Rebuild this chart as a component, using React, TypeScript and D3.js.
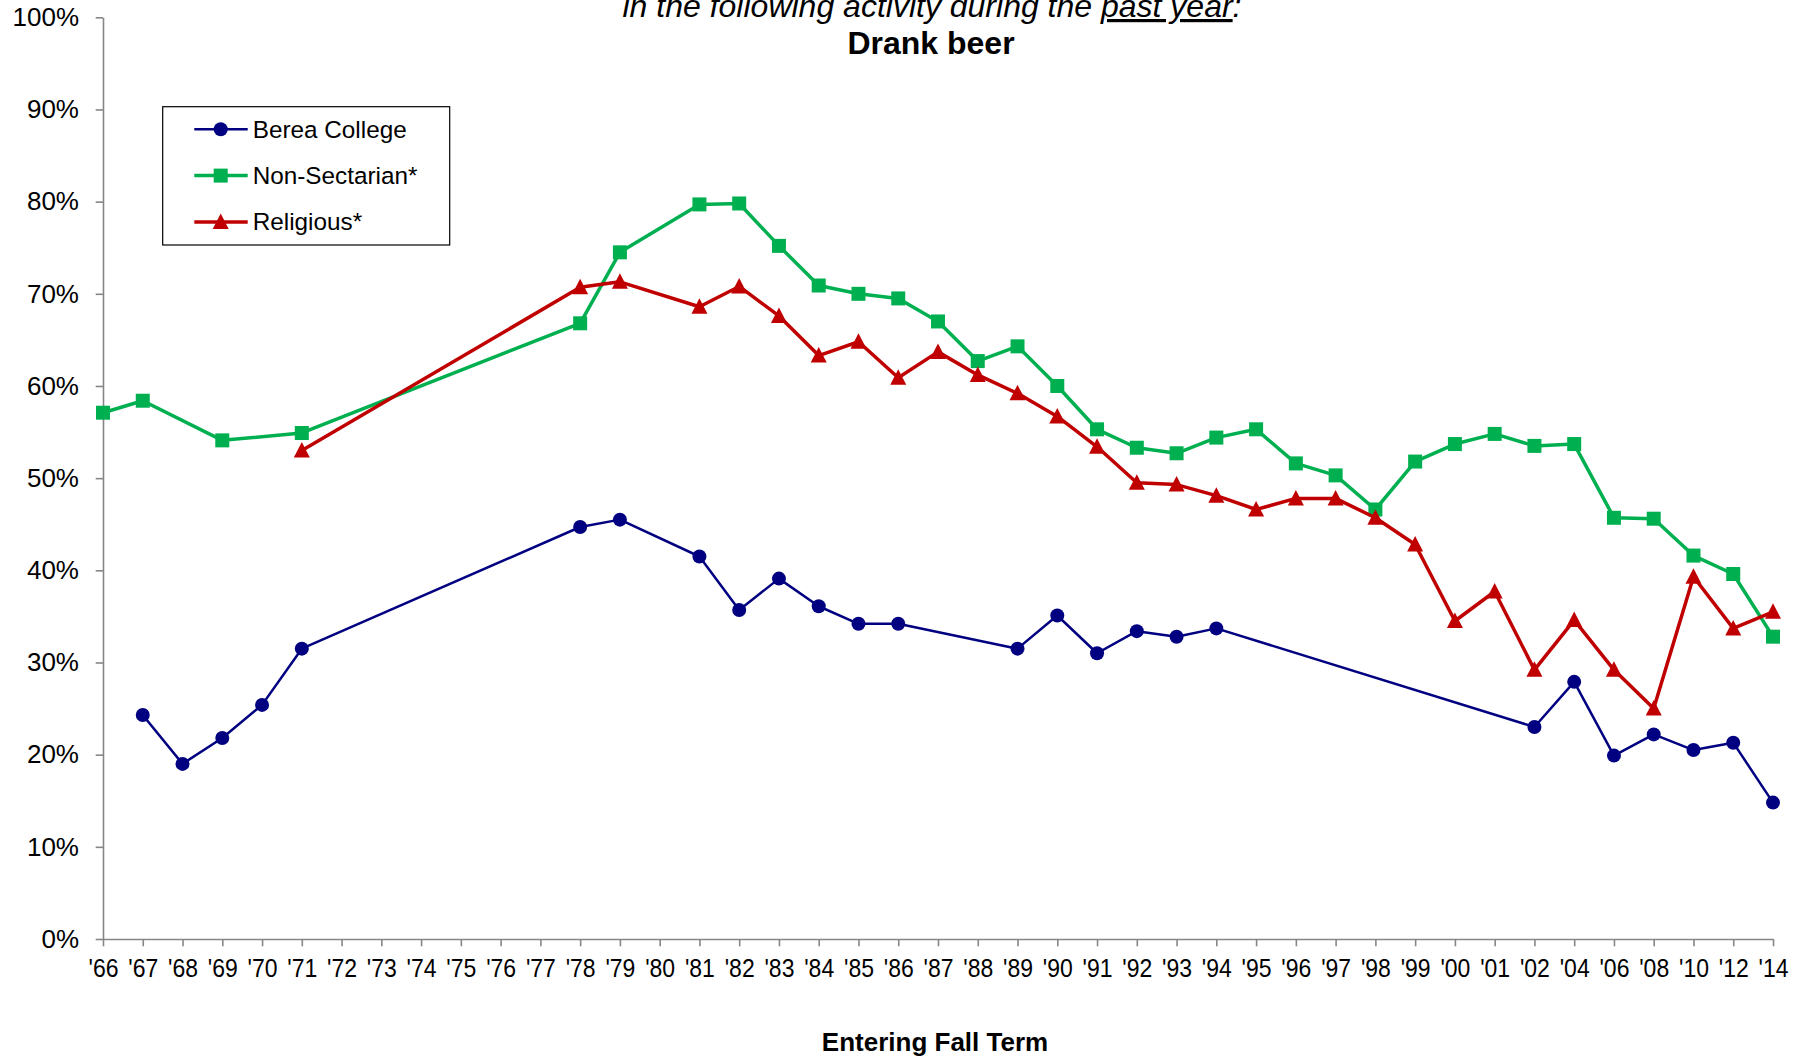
import React, { useRef, useEffect } from 'react'
import * as d3 from 'd3'

const years = [
  "'66", "'67", "'68", "'69", "'70", "'71", "'72", "'73", "'74", "'75", "'76", "'77",
  "'78", "'79", "'80", "'81", "'82", "'83", "'84", "'85", "'86", "'87", "'88", "'89",
  "'90", "'91", "'92", "'93", "'94", "'95", "'96", "'97", "'98", "'99", "'00", "'01",
  "'02", "'04", "'06", "'08", "'10", "'12", "'14",
]

// percentages, null = no survey that year
const berea = [
  null, 24.3, 19.0, 21.8, 25.4, 31.5, null, null, null, null, null, null,
  44.7, 45.5, null, 41.5, 35.7, 39.1, 36.1, 34.2, 34.2, null, null, 31.5,
  35.1, 31.0, 33.4, 32.8, 33.7, null, null, null, null, null, null, null,
  23.0, 27.9, 19.9, 22.2, 20.5, 21.3, 14.8,
]
const nonSectarian = [
  57.1, 58.4, null, 54.1, null, 54.9, null, null, null, null, null, null,
  66.8, 74.5, null, 79.7, 79.8, 75.2, 70.9, 70.0, 69.5, 67.0, 62.7, 64.3,
  60.0, 55.3, 53.3, 52.7, 54.4, 55.3, 51.6, 50.3, 46.6, 51.8, 53.7, 54.8,
  53.5, 53.7, 45.7, 45.6, 41.6, 39.6, 32.8,
]
const religious = [
  null, null, null, null, null, 53.0, null, null, null, null, null, null,
  70.7, 71.3, null, 68.6, 70.8, 67.6, 63.3, 64.8, 60.9, 63.7, 61.2, 59.2,
  56.7, 53.4, 49.5, 49.3, 48.1, 46.6, 47.8, 47.8, 45.7, 42.8, 34.5, 37.7,
  29.2, 34.6, 29.2, 25.0, 39.3, 33.7, 35.5,
]

const yTicks = [0, 10, 20, 30, 40, 50, 60, 70, 80, 90, 100]

const seriesList = [
  { name: 'Berea College', values: berea, color: '#000080', width: 2.5, marker: 'circle' },
  { name: 'Non-Sectarian*', values: nonSectarian, color: '#00B050', width: 3.5, marker: 'square' },
  { name: 'Religious*', values: religious, color: '#C00000', width: 3.5, marker: 'triangle' },
]

const FONT = '"Liberation Sans", Arial, Helvetica, sans-serif'
const W = 1810
const H = 1057

const drawMarker = (g, type, color) => {
  if (type === 'circle') {
    g.append('circle').attr('r', 7).attr('fill', color)
  } else if (type === 'square') {
    g.append('rect').attr('x', -7).attr('y', -7).attr('width', 14).attr('height', 14).attr('fill', color)
  } else {
    g.append('path').attr('d', 'M0,-8.5L8,7L-8,7Z').attr('fill', color)
  }
}

const App = () => {
  const svgRef = useRef(null)

  useEffect(() => {
    const svg = d3.select(svgRef.current)
    svg.selectAll('*').remove()

    const x = d3.scalePoint().domain(years).range([103, 1773])
    const y = d3.scaleLinear().domain([0, 100]).range([939, 17.3])

    // title (first line sits partly above the top edge)
    const title = svg
      .append('text')
      .attr('x', 932)
      .attr('y', 17)
      .attr('text-anchor', 'middle')
      .attr('font-family', FONT)
      .attr('font-size', 32)
      .attr('font-style', 'italic')
    title.append('tspan').text('in the following activity during the ')
    title.append('tspan').attr('text-decoration', 'underline').text('past year')
    title.append('tspan').text(':')

    svg
      .append('text')
      .attr('x', 931)
      .attr('y', 54)
      .attr('text-anchor', 'middle')
      .attr('font-family', FONT)
      .attr('font-size', 32)
      .attr('font-weight', 'bold')
      .text('Drank beer')

    // axes
    const yAxis = d3
      .axisLeft(y)
      .tickValues(yTicks)
      .tickFormat((d) => d + '%')
      .tickSizeInner(7.3)
      .tickSizeOuter(0)
      .tickPadding(16.7)

    const gy = svg.append('g').attr('transform', 'translate(103,0)').call(yAxis)
    gy.selectAll('path, line').attr('stroke', '#868686').attr('stroke-width', 1.6)
    gy.selectAll('text').attr('font-family', FONT).attr('font-size', 26).attr('fill', '#000')

    const xAxis = d3.axisBottom(x).tickSizeInner(7.3).tickSizeOuter(0).tickPadding(12.6)
    const gx = svg.append('g').attr('transform', 'translate(0,939)').call(xAxis)
    gx.selectAll('path, line').attr('stroke', '#868686').attr('stroke-width', 1.6)
    // labels in the source are slightly narrow, squeeze them horizontally
    gx.selectAll('text')
      .attr('font-family', FONT)
      .attr('font-size', 25)
      .attr('fill', '#000')
      .attr('transform', 'scale(0.92,1)')

    svg
      .append('text')
      .attr('x', 935)
      .attr('y', 1051)
      .attr('text-anchor', 'middle')
      .attr('font-family', FONT)
      .attr('font-size', 26)
      .attr('font-weight', 'bold')
      .text('Entering Fall Term')

    // series
    const line = d3
      .line()
      .x((d) => x(d.year))
      .y((d) => y(d.value))

    seriesList.forEach((s) => {
      const pts = years
        .map((yr, i) => ({ year: yr, value: s.values[i] }))
        .filter((d) => d.value != null)

      svg
        .append('path')
        .datum(pts)
        .attr('d', line)
        .attr('fill', 'none')
        .attr('stroke', s.color)
        .attr('stroke-width', s.width)
        .attr('stroke-linejoin', 'round')

      pts.forEach((d) => {
        const g = svg.append('g').attr('transform', `translate(${x(d.year)},${y(d.value)})`)
        drawMarker(g, s.marker, s.color)
      })
    })

    // legend
    const lg = svg.append('g')
    lg.append('rect')
      .attr('x', 162.7)
      .attr('y', 106.7)
      .attr('width', 287)
      .attr('height', 138.3)
      .attr('fill', '#fff')
      .attr('stroke', '#000')
      .attr('stroke-width', 1.2)

    seriesList.forEach((s, i) => {
      const cy = 129.3 + i * 46.3
      lg.append('line')
        .attr('x1', 194.3)
        .attr('x2', 247.7)
        .attr('y1', cy)
        .attr('y2', cy)
        .attr('stroke', s.color)
        .attr('stroke-width', s.width)
      drawMarker(lg.append('g').attr('transform', `translate(220.7,${cy})`), s.marker, s.color)
      lg.append('text')
        .attr('x', 252.7)
        .attr('y', cy)
        .attr('dy', '0.35em')
        .attr('font-family', FONT)
        .attr('font-size', 24.3)
        .text(s.name)
    })
  }, [])

  return (
    <div style={{ position: 'absolute', left: 0, top: 0, width: W, height: H, background: '#fff' }}>
      <svg ref={svgRef} width={W} height={H} style={{ display: 'block' }} />
    </div>
  )
}

export default App
